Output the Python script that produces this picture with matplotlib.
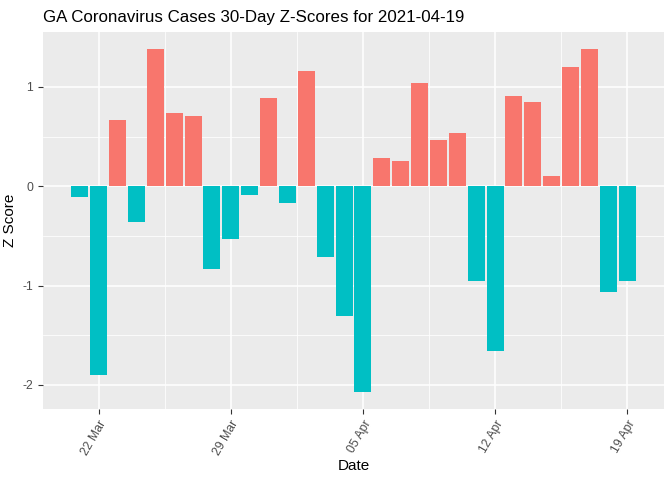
import numpy as np
import pandas as pd
import matplotlib
matplotlib.use("Agg")
import matplotlib.pyplot as plt
import matplotlib.dates as mdates

plt.rcParams["font.family"] = ["Liberation Sans", "DejaVu Sans"]

# data
start_date = "2021-03-21"
z_scores = [-0.11, -1.90, 0.67, -0.36, 1.38, 0.74, 0.71, -0.83, -0.53, -0.09,
            0.89, -0.17, 1.16, -0.71, -1.31, -2.07, 0.28, 0.25, 1.04, 0.47,
            0.54, -0.95, -1.66, 0.91, 0.85, 0.10, 1.20, 1.38, -1.06, -0.95]
tick_dates = ["2021-03-22", "2021-03-29", "2021-04-05", "2021-04-12", "2021-04-19"]
title = "GA Coronavirus Cases 30-Day Z-Scores for 2021-04-19"

dates = pd.date_range(start_date, periods=len(z_scores), freq="D")
vals = np.array(z_scores)
colors = np.where(vals > 0, "#F8766D", "#00BFC4")

fig = plt.figure(figsize=(6.72, 4.8), dpi=100)
ax = fig.add_axes([43 / 672, 1 - 409 / 480, (664 - 43) / 672, (409 - 32) / 480])
ax.set_facecolor("#EBEBEB")

x = mdates.date2num(dates)
ax.bar(x, vals, width=0.9, color=colors, zorder=3)

# limits with ggplot-like expansion
lo, hi = x[0] - 0.45, x[-1] + 0.45
pad = (hi - lo) * 0.05
ax.set_xlim(lo - pad, hi + pad)
ylo, yhi = vals.min(), vals.max()
ypad = (yhi - ylo) * 0.05
ax.set_ylim(ylo - ypad, yhi + ypad)

major_x = mdates.date2num(pd.to_datetime(tick_dates))
minor_x = (major_x[:-1] + major_x[1:]) / 2
ax.set_xticks(major_x)
ax.set_xticks(minor_x, minor=True)
ax.set_xticklabels([d.strftime("%d %b") for d in pd.to_datetime(tick_dates)],
                   rotation=60, ha="right", va="top", rotation_mode="anchor",
                   color="#4D4D4D", fontsize=8.8)
ax.set_yticks([-2, -1, 0, 1])
ax.set_yticks([-1.5, -0.5, 0.5], minor=True)
ax.set_yticklabels(["-2", "-1", "0", "1"], color="#4D4D4D", fontsize=8.8)

ax.grid(which="major", color="white", linewidth=1.1, zorder=0)
ax.grid(which="minor", color="white", linewidth=0.55, zorder=0)
ax.tick_params(which="major", length=3.5, color="#333333", width=0.8)
ax.tick_params(which="minor", length=0)
for s in ax.spines.values():
    s.set_visible(False)

ax.set_xlabel("Date", fontsize=11, labelpad=1)
ax.set_ylabel("Z Score", fontsize=11, labelpad=4)
fig.text(43 / 672, 1 - 22 / 480, title, fontsize=12.2, ha="left", va="baseline")

fig.savefig("out.png", dpi=100)
